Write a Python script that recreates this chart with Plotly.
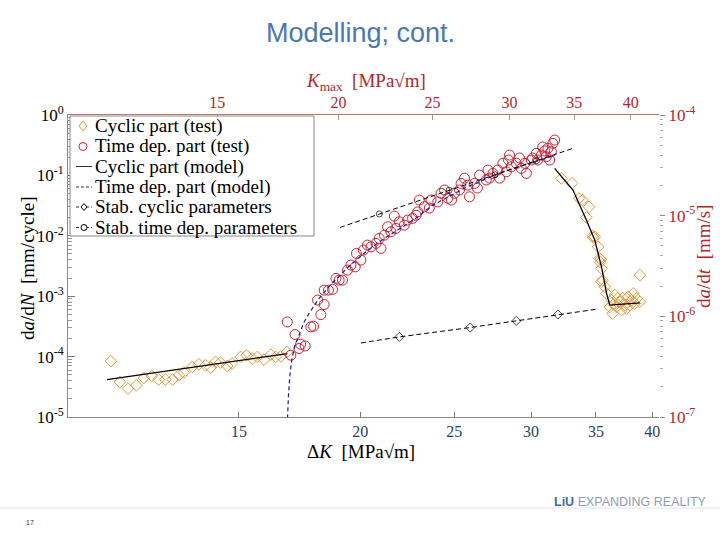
import plotly.graph_objects as go

# ---------------- data ----------------
# Cyclic part (test): stress intensity range dK [MPa*sqrt(m)] and da/dN [mm/cycle]
cyc_dK = [11.07, 11.31, 11.53, 11.76, 11.97, 12.20, 12.40, 12.60, 12.82, 13.01, 13.16, 13.43,
          13.64, 13.86, 14.03, 14.19, 14.36, 14.59, 14.76, 15.06, 15.28, 15.48, 15.67, 15.92,
          16.18, 16.37, 16.57, 16.81,
          32.24, 33.06, 33.62, 33.89, 34.43, 34.21, 34.71, 34.78, 34.90, 35.18, 35.32, 35.36,
          35.40, 35.46, 35.46, 35.55, 35.74, 35.89, 36.32, 36.40, 36.75, 37.04, 37.19, 37.48,
          37.78, 38.08, 38.23, 38.54, 38.84, 38.84, 37.64, 38.38, 36.17, 36.60, 36.86, 37.30,
          37.93, 36.51]
cyc_dadN = [8.4e-5, 3.8e-5, 2.96e-5, 3.35e-5, 4.43e-5, 4.78e-5, 4.17e-5, 4.17e-5, 4.17e-5,
            4.91e-5, 5.45e-5, 6.74e-5, 7.47e-5, 7.19e-5, 6.59e-5, 8.15e-5, 7.97e-5, 7.00e-5,
            7.67e-5, 9.87e-5, 1.05e-4, 9.29e-5, 9.87e-5, 8.93e-5, 1.08e-4, 9.87e-5, 1.01e-4,
            1.19e-4,
            8.93e-2, 7.38e-2, 4.16e-2, 3.90e-2, 3.02e-2, 2.02e-2, 9.88e-3, 9.33e-3, 9.62e-3,
            6.57e-3, 4.22e-3, 3.66e-3, 4.06e-3, 2.88e-3, 1.73e-3, 1.84e-3, 1.43e-3, 1.11e-3,
            8.59e-4, 5.17e-4, 6.65e-4, 8.05e-4, 5.86e-4, 7.10e-4, 9.74e-4, 8.59e-4, 1.11e-3,
            9.17e-4, 8.05e-4, 2.23e-3, 6.26e-4, 7.57e-4, 6.65e-4, 1.04e-3, 9.28e-4, 9.28e-4,
            7.10e-4, 7.37e-4]

# Time dependent part (test): Kmax [MPa*sqrt(m)] and da/dt [mm/s]
td_Kmax = [17.71, 18.04, 17.86, 18.28, 18.48, 18.21, 18.73, 18.85, 19.03, 19.18, 19.33, 19.33,
           19.53, 19.72, 19.88, 20.03, 20.19, 20.43, 20.60, 20.81, 20.87, 21.09, 21.22, 21.42,
           21.60, 21.86, 22.12, 22.03, 22.30, 22.47, 22.65, 22.92, 22.83, 23.10, 23.38, 23.56,
           23.84, 24.04, 24.13, 24.23, 24.52, 24.81, 24.91, 25.31, 25.51, 25.72, 25.92, 26.15,
           26.33, 26.65, 26.75, 26.97, 27.29, 27.18, 27.62, 27.81, 27.95, 28.40, 28.51, 28.62,
           28.85, 29.19, 29.31, 29.54, 29.78, 29.94, 30.14, 30.50, 30.01, 30.73, 30.86, 31.23,
           31.11, 31.60, 31.70, 31.98, 32.08, 32.36, 32.47, 32.62, 32.74, 32.87, 33.01, 33.14,
           33.26, 33.40]
td_dadt = [8.80e-7, 6.60e-7, 4.11e-7, 5.28e-7, 5.08e-7, 4.79e-7, 7.85e-7, 7.98e-7, 1.45e-6,
           1.04e-6, 1.31e-6, 1.82e-6, 1.82e-6, 1.85e-6, 2.38e-6, 2.29e-6, 2.29e-6, 2.88e-6,
           3.23e-6, 3.10e-6, 4.22e-6, 3.62e-6, 4.55e-6, 5.10e-6, 4.90e-6, 5.30e-6, 4.73e-6,
           5.94e-6, 6.41e-6, 7.75e-6, 6.91e-6, 7.47e-6, 9.90e-6, 8.69e-6, 8.05e-6, 9.04e-6,
           9.40e-6, 1.01e-5, 1.09e-5, 1.43e-5, 1.23e-5, 1.19e-5, 1.43e-5, 1.37e-5, 1.67e-5,
           1.80e-5, 1.49e-5, 1.43e-5, 1.67e-5, 1.80e-5, 2.09e-5, 2.36e-5, 1.54e-5, 2.01e-5,
           2.09e-5, 1.88e-5, 2.53e-5, 2.26e-5, 2.84e-5, 2.36e-5, 2.63e-5, 2.84e-5, 2.36e-5,
           3.31e-5, 2.73e-5, 3.57e-5, 3.06e-5, 3.31e-5, 4.00e-5, 3.74e-5, 2.95e-5, 2.63e-5,
           3.31e-5, 3.57e-5, 3.74e-5, 4.16e-5, 3.57e-5, 4.00e-5, 4.81e-5, 4.39e-5, 3.85e-5,
           4.67e-5, 3.57e-5, 4.32e-5, 5.23e-5, 5.64e-5]

# Cyclic part (model): dK, da/dN  (None separates the two branches)
cyc_model_dK = [10.97, 16.83, None, 31.73, 33.14, 34.21, 34.90, 35.46, 35.89, 36.17, 38.84]
cyc_model_dadN = [4.17e-5, 1.12e-4, None, 1.31e-1, 5.71e-2, 1.82e-2, 8.48e-3, 3.06e-3,
                  1.11e-3, 7.10e-4, 7.75e-4]

# Time dependent part (model): Kmax, da/dt
td_model_Kmax = [17.71, 17.72, 17.76, 17.82, 17.91, 18.04, 18.21, 18.43, 18.65, 19.10, 19.70,
                 20.51, 21.51, 22.40, 23.27, 24.12, 25.00, 27.10, 29.31, 31.70, 33.24]
td_model_dadt = [8.27e-8, 9.93e-8, 1.64e-7, 2.60e-7, 3.84e-7, 5.16e-7, 6.49e-7, 8.75e-7,
                 1.07e-6, 1.51e-6, 2.14e-6, 3.15e-6, 4.65e-6, 6.12e-6, 7.69e-6, 9.67e-6,
                 1.27e-5, 1.92e-5, 2.65e-5, 3.41e-5, 3.91e-5]

# Stabilised cyclic parameters: dK, da/dN (line ends carry no marker)
stab_cyc_dK = [20.04, 21.95, 25.97, 28.97, 31.98, 35.05]
stab_cyc_dadN = [1.68e-4, 2.12e-4, 3.03e-4, 3.90e-4, 4.98e-4, 6.09e-4]
stab_cyc_marks = [0, 1, 1, 1, 1, 0]

# Stabilised time dependent parameters: Kmax, da/dt
stab_td_Kmax = [20.07, 22.03, 26.0, 29.0, 32.0, 35.04]
stab_td_dadt = [7.64e-6, 1.04e-5, 1.79e-5, 2.55e-5, 3.52e-5, 4.73e-5]
stab_td_marks = [0, 1, 1, 1, 1, 0]

# Tick labels
k_ticks = [15, 20, 25, 30, 35, 40]
left_exps = [0, -1, -2, -3, -4, -5]
right_exps = [-4, -5, -6, -7]

# Legend entries
legend_labels = ["Cyclic part (test)", "Time dep. part (test)", "Cyclic part (model)",
                 "Time dep. part (model)", "Stab. cyclic parameters",
                 "Stab. time dep. parameters"]

# ---------------- styling ----------------
ORANGE = "#E8963A"
RED = "#CC2233"
AXRED = "#B5262B"
NAVY = "#1C1C8A"
SERIF = "Liberation Serif"

fig = go.Figure()

fig.add_trace(go.Scatter(
    x=cyc_dK, y=cyc_dadN, mode="markers", name=legend_labels[0],
    marker=dict(symbol="diamond-open", size=9, color=ORANGE, line=dict(width=1, color=ORANGE)),
    xaxis="x", yaxis="y"))
fig.add_trace(go.Scatter(
    x=td_Kmax, y=td_dadt, mode="markers", name=legend_labels[1],
    marker=dict(symbol="circle-open", size=10, color=RED, line=dict(width=1, color=RED)),
    xaxis="x2", yaxis="y2"))
fig.add_trace(go.Scatter(
    x=cyc_model_dK, y=cyc_model_dadN, mode="lines", name=legend_labels[2],
    line=dict(color="black", width=1.3), connectgaps=False, xaxis="x", yaxis="y"))
fig.add_trace(go.Scatter(
    x=td_model_Kmax, y=td_model_dadt, mode="lines", name=legend_labels[3],
    line=dict(color=NAVY, width=1.2, dash="4px,3px"), xaxis="x2", yaxis="y2"))
fig.add_trace(go.Scatter(
    x=stab_cyc_dK, y=stab_cyc_dadN, mode="lines+markers", name=legend_labels[4],
    line=dict(color="black", width=1, dash="5px,3px"),
    marker=dict(symbol="diamond-open", size=[7 * m for m in stab_cyc_marks], color="black",
                line=dict(width=1, color="black")),
    xaxis="x", yaxis="y"))
fig.add_trace(go.Scatter(
    x=stab_td_Kmax, y=stab_td_dadt, mode="lines+markers", name=legend_labels[5],
    line=dict(color="black", width=1, dash="5px,3px"),
    marker=dict(symbol="circle-open", size=[6 * m for m in stab_td_marks], color="black",
                line=dict(width=1, color="black")),
    xaxis="x2", yaxis="y2"))

W, H = 720, 540
L, R, T, B = 68, 659, 115, 417
xdom = [L / W, R / W]
ydom = [(H - B) / H, (H - T) / H]

def px(x):
    return x / W

def py(y):
    return (H - y) / H

def sup(e):
    return "10<sup>%d</sup>" % e

minor_left = [m * 10.0 ** e for e in range(-5, 0) for m in range(2, 10)]
minor_right = [m * 10.0 ** e for e in range(-7, -4) for m in range(2, 10)]

tickfont = dict(family=SERIF, size=17, color="black")

fig.update_layout(
    width=W, height=H, autosize=False,
    margin=dict(l=0, r=0, t=0, b=0, autoexpand=False),
    paper_bgcolor="white", plot_bgcolor="white",
    showlegend=False,
    xaxis=dict(type="log", domain=xdom, range=[1.0, 1.609], anchor="y", automargin=False,
               tickmode="array", tickvals=k_ticks, ticktext=[str(v) for v in k_ticks],
               ticks="inside", ticklen=5, tickcolor="#777777",
               showline=True, linecolor="#888888", linewidth=1,
               showgrid=False, zeroline=False, tickfont=dict(family=SERIF, size=16)),
    xaxis2=dict(type="log", domain=xdom, range=[1.02228, 1.63128], overlaying="x",
                side="top", anchor="y", automargin=False,
                tickmode="array", tickvals=k_ticks, ticktext=[str(v) for v in k_ticks],
                ticks="inside", ticklen=5, tickcolor="#999999",
                showline=True, linecolor="#C87070", linewidth=1,
                showgrid=False, zeroline=False,
                tickfont=dict(family=SERIF, size=16, color=AXRED)),
    yaxis=dict(type="log", domain=ydom, range=[-5, 0], anchor="x", automargin=False,
               tickmode="array", tickvals=[10.0 ** e for e in left_exps],
               ticktext=[sup(e) for e in left_exps],
               ticks="inside", ticklen=7, tickcolor="#777777",
               minor=dict(tickmode="array", tickvals=minor_left, ticks="inside",
                          ticklen=4, tickcolor="#999999", showgrid=False),
               showline=True, linecolor="#888888", linewidth=1,
               showgrid=False, zeroline=False, tickfont=tickfont),
    yaxis2=dict(type="log", domain=ydom, range=[-7, -4], overlaying="y", side="right",
                anchor="x", automargin=False,
                tickmode="array", tickvals=[10.0 ** e for e in right_exps],
                ticktext=[sup(e) for e in right_exps],
                ticks="outside", ticklen=5, tickcolor="#888888",
                minor=dict(tickmode="array", tickvals=minor_right, ticks="outside",
                           ticklen=3, tickcolor="#aaaaaa", showgrid=False),
                showline=False, showgrid=False, zeroline=False,
                tickfont=dict(family=SERIF, size=17, color=AXRED)),
)

# axis titles placed explicitly
def title_ann(text, x, y, color="black", angle=0):
    fig.add_annotation(text=text, x=px(x), y=py(y), xref="paper", yref="paper",
                       textangle=angle, showarrow=False, xanchor="center", yanchor="middle",
                       font=dict(family=SERIF, size=19, color=color))

title_ann("Δ<i>K</i>  [MPa√m]", 361, 451)
title_ann("<i>K</i><sub>max</sub>  [MPa√m]", 366, 82, AXRED)
title_ann("d<i>a</i>/d<i>N</i>  [mm/cycle]", 27, 268, angle=-90)
title_ann("d<i>a</i>/d<i>t</i>  [mm/s]", 703, 257, AXRED, angle=-90)

# ---- legend box drawn in the MATLAB style ----
LX0, LX1, LY0, LY1 = 70, 314, 116, 236
fig.add_shape(type="rect", xref="paper", yref="paper", x0=px(LX0), x1=px(LX1),
              y0=py(LY1), y1=py(LY0), line=dict(color="#888888", width=1),
              fillcolor="white", layer="above")
row_y = [126, 146.5, 166.5, 187, 207, 227.5]
for lab, yy in zip(legend_labels, row_y):
    fig.add_annotation(text=lab, x=px(93), y=py(yy), xref="paper", yref="paper",
                       xanchor="left", yanchor="middle", showarrow=False,
                       font=dict(family=SERIF, size=19, color="black"))

def diamond(cx, cy, hw, hh, color, fill="white"):
    fig.add_shape(type="path", xref="paper", yref="paper", layer="above",
                  path="M %f,%f L %f,%f L %f,%f L %f,%f Z" % (
                      px(cx - hw), py(cy), px(cx), py(cy - hh),
                      px(cx + hw), py(cy), px(cx), py(cy + hh)),
                  line=dict(color=color, width=1), fillcolor=fill)

def circle(cx, cy, r, color, fill="white"):
    fig.add_shape(type="circle", xref="paper", yref="paper", layer="above",
                  x0=px(cx - r), x1=px(cx + r), y0=py(cy + r), y1=py(cy - r),
                  line=dict(color=color, width=1), fillcolor=fill)

diamond(83, row_y[0], 4, 5, ORANGE)
circle(83, row_y[1], 4, RED)
fig.add_shape(type="line", xref="paper", yref="paper", x0=px(76), x1=px(92), layer="above",
              y0=py(row_y[2]), y1=py(row_y[2]), line=dict(color="#333333", width=1))
for r in (3, 4, 5):
    fig.add_shape(type="line", xref="paper", yref="paper", x0=px(76), x1=px(92),
                  layer="above", y0=py(row_y[r]), y1=py(row_y[r]),
                  line=dict(color="#333333", width=1, dash="3px,2px"))
diamond(84, row_y[4], 3, 3.5, "black")
circle(84, row_y[5], 3, "black")

# Slide decorations
fig.add_annotation(text="Modelling; cont.", x=0.5, y=py(33), xref="paper", yref="paper",
                   xanchor="center", yanchor="middle", showarrow=False,
                   font=dict(family="Liberation Sans", size=27, color="#4A78B5"))
fig.add_shape(type="line", xref="paper", yref="paper", x0=0, x1=1,
              y0=py(508), y1=py(508), line=dict(color="#E4E4E4", width=1))
fig.add_annotation(text="<b>LiU</b> <span style='color:#8E9DB3'>EXPANDING REALITY</span>",
                   x=px(709), y=py(502), xref="paper", yref="paper",
                   xanchor="right", yanchor="middle", showarrow=False,
                   font=dict(family="Liberation Sans", size=12.5, color="#3F6AA6"))
fig.add_annotation(text="17", x=px(30), y=py(522), xref="paper", yref="paper",
                   xanchor="center", yanchor="middle", showarrow=False,
                   font=dict(family="Liberation Sans", size=7, color="#333333"))

fig.write_html("out.html",
               config={"displayModeBar": False},
               post_script="document.body.style.margin='0';"
                           "document.body.style.overflow='hidden';")
